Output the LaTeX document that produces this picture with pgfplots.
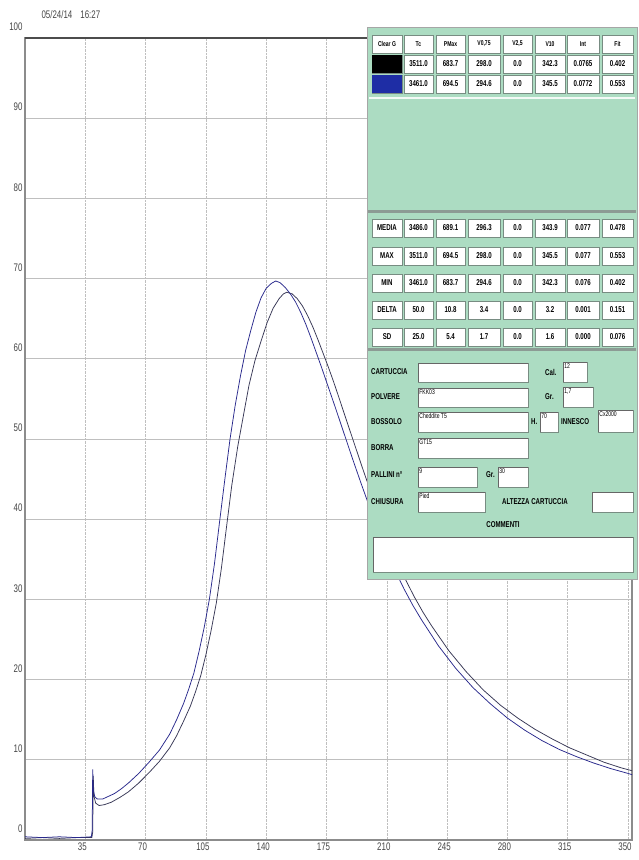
\documentclass[border=0pt]{standalone}
\usepackage{fontspec}
\setmainfont{Liberation Sans}
\newfontfamily\cond[FakeStretch=0.72]{Liberation Sans}
\usepackage{pgfplots}
\usepackage{pgfplotstable}
\pgfplotsset{compat=1.18}

\definecolor{cblue}{RGB}{40,40,140}
\definecolor{cblack}{RGB}{55,55,85}
\definecolor{panelgreen}{RGB}{172,220,194}
\definecolor{cellborder}{RGB}{120,140,130}
\definecolor{sepgray}{RGB}{140,155,148}
\definecolor{swblue}{RGB}{30,45,165}
\definecolor{ticktext}{RGB}{70,70,70}

\pgfplotstableread{
t p
0 4
10 3
20 4
30 3
38.5 4
39.0 12
39.3 88
39.7 62
40.5 54
42 51
45 51
48 54
52 58
56 64
60 71
66 83
72 97
78 112
84 132
88 150
92 170
95 188
98 208
101 235
104 265
107 300
110 345
113 398
116 450
119 500
122 542
125 578
128 610
131 635
134 658
137 676
140 688
143 694
145.5 697
148 695
151 689
154 681
157 671
160 658
163 643
166 626
169 608
172 590
176 565
180 540
185 508
190 476
195 445
200 415
205 386
210 359
215 335
220 313
225 293
230 275
240 242
250 214
260 190
270 170
280 152
290 137
300 124
310 113
320 104
330 96
340 89
350 83
353 81
}\blueseries

\pgfplotstableread{
t p
0 2
10 3
20 2
30 3
38.8 3
39.3 10
39.6 80
40.0 55
41 46
43 43
46 44
50 47
55 53
60 60
66 71
72 84
78 98
84 115
88 130
92 148
96 167
99 185
102 205
105 231
108 261
111 295
114 339
117 391
120 442
123.5 491
127 532
130 567
133.5 598
137 622
140.5 645
144 663
147.5 675
150 681
152 683
155 681
158 675
161 666
164 654
167 640
170 624
173 607
176 590
179 572
182 553
186 527
191 495
196 463
201 432
206 402
211 374
216 348
221 324
226 303
231 284
236 267
246 236
256 210
266 187
276 168
286 152
296 138
306 126
316 115
326 106
336 97
346 90
353 86
}\blackseries

\newcommand\tabfont{\cond\bfseries\fontsize{8.5}{9}\selectfont}
\newcommand\hdrfont{\cond\bfseries\fontsize{7}{8}\selectfont}
\newcommand\lblfont{\cond\bfseries\fontsize{8.5}{9}\selectfont}
\newcommand\valfont{\cond\fontsize{7}{8}\selectfont}

% cell: x1, x2, ycenter, text
\newcommand\cell[5][\tabfont]{%
  \draw[fill=white,draw=cellborder,line width=0.6pt] (#2,#4-9) rectangle (#3,#4+9);
  \node[font=#1,text=black,inner sep=0pt] at ({(#2+#3)/2},#4) {#5};}
\newcommand\tabrow[9]{%
  \cell{372}{402}{#1}{#2}\cell{404}{433}{#1}{#3}\cell{436}{465}{#1}{#4}%
  \cell{468}{500}{#1}{#5}\cell{503}{532}{#1}{#6}\cell{535}{565}{#1}{#7}%
  \cell{567}{599}{#1}{#8}\cell{602}{633}{#1}{#9}}
\newcommand\hdrrow[9]{%
  \cell[\hdrfont]{372}{402}{#1}{#2}\cell[\hdrfont]{404}{433}{#1}{#3}\cell[\hdrfont]{436}{465}{#1}{#4}%
  \cell[\hdrfont]{468}{500}{#1}{#5}\cell[\hdrfont]{503}{532}{#1}{#6}\cell[\hdrfont]{535}{565}{#1}{#7}%
  \cell[\hdrfont]{567}{599}{#1}{#8}\cell[\hdrfont]{602}{633}{#1}{#9}}
% field box: x1,y1,x2,y2,text
\newcommand\field[5]{%
  \draw[fill=white,draw=cellborder,line width=0.6pt] (#1,#2) rectangle (#3,#4);
  \draw[black!60,line width=0.9pt] (#1,#4) -- (#1,#2) -- (#3,#2);
  \node[font=\valfont,anchor=north west,inner sep=1.2pt] at (#1,#2) {#5};}
\newcommand\lbl[3]{\node[font=\lblfont,anchor=west,inner sep=0pt] at (#1,#2) {#3};}

\begin{document}
\begin{tikzpicture}
\useasboundingbox (0,0) rectangle (638pt,860pt);
\fill[white] (0,0) rectangle (638pt,860pt);
\begin{axis}[
  at={(25pt,20pt)}, anchor=south west,
  scale only axis, width=607pt, height=802pt,
  xmin=0, xmax=352.3, ymin=0, ymax=1000,
  xtick={35,70,105,140,175,210,245,280,315,350},
  ytick={0,100,200,300,400,500,600,700,800,900,1000},
  yticklabels={0,10,20,30,40,50,60,70,80,90,100},
  major tick length=0pt,
  grid=major,
  x grid style={densely dotted, draw=black!25, line width=0.6pt},
  y grid style={draw=black!25, line width=0.6pt},
  axis line style={draw=black!45, line width=1.4pt},
  /pgf/number format/assume math mode=true,
  tick label style={font=\cond\fontsize{11}{11}\selectfont, text=ticktext},
  yticklabel style={yshift=11pt, xshift=1pt},
  xticklabel style={xshift=-3pt, yshift=1pt},
  clip=true,
]
\addplot[draw=cblack, line width=0.75pt] table[x=t,y=p] {\blackseries};
\addplot[draw=cblue, line width=0.75pt] table[x=t,y=p] {\blueseries};
\draw[black!70, line width=2pt] (rel axis cs:0,1) -- (rel axis cs:1,1);
\end{axis}

\node[font=\cond\fontsize{11}{11}\selectfont, text=ticktext, anchor=west] at (38pt,845pt) {05/24/14\hspace{8pt}16:27};

\begin{scope}[shift={(0pt,860pt)}, x=1pt, y=-1pt]
  % panel
  \fill[panelgreen] (367,28) rectangle (637,580);
  \draw[black!35, line width=1pt] (367,28) rectangle (637,580);
  % top table
  \hdrrow{44}{Clear G}{Tc}{PMax}{V0,75}{V2,5}{V10}{Int}{Fit}
  \tabrow{64}{}{3511.0}{683.7}{298.0}{0.0}{342.3}{0.0765}{0.402}
  \tabrow{84}{}{3461.0}{694.5}{294.6}{0.0}{345.5}{0.0772}{0.553}
  \fill[black] (372,55) rectangle (402,73);
  \fill[swblue] (372,75) rectangle (402,93);
  \draw[white!85!panelgreen, line width=2pt] (369,98) -- (635,98);
  % stats
  \draw[sepgray, line width=3pt] (368,212) -- (636,212);
  \tabrow{228}{MEDIA}{3486.0}{689.1}{296.3}{0.0}{343.9}{0.077}{0.478}
  \tabrow{256}{MAX}{3511.0}{694.5}{298.0}{0.0}{345.5}{0.077}{0.553}
  \tabrow{283}{MIN}{3461.0}{683.7}{294.6}{0.0}{342.3}{0.076}{0.402}
  \tabrow{310}{DELTA}{50.0}{10.8}{3.4}{0.0}{3.2}{0.001}{0.151}
  \tabrow{337}{SD}{25.0}{5.4}{1.7}{0.0}{1.6}{0.000}{0.076}
  \draw[sepgray, line width=3pt] (368,350) -- (636,350);
  % form
  \lbl{371}{372}{CARTUCCIA}
  \field{418}{363}{528}{382}{}
  \lbl{545}{372}{Cal.}
  \field{563}{362}{587}{382}{12}
  \lbl{371}{397}{POLVERE}
  \field{418}{388}{528}{407}{FKK03}
  \lbl{545}{397}{Gr.}
  \field{563}{387}{593}{407}{1,7}
  \lbl{371}{422}{BOSSOLO}
  \field{418}{412}{528}{432}{Cheddite T5}
  \lbl{531}{422}{H.}
  \field{540}{412}{558}{432}{70}
  \lbl{561}{422}{INNESCO}
  \field{598}{410}{633}{432}{Cx2000}
  \lbl{371}{448}{BORRA}
  \field{418}{438}{528}{458}{GT15}
  \lbl{371}{475}{PALLINI n\textdegree}
  \field{418}{467}{477}{487}{9}
  \lbl{486}{475}{Gr.}
  \field{498}{467}{528}{487}{30}
  \lbl{371}{502}{CHIUSURA}
  \field{418}{492}{485}{512}{Pied}
  \lbl{502}{502}{ALTEZZA CARTUCCIA}
  \field{592}{492}{633}{512}{}
  \node[font=\lblfont,inner sep=0pt] at (503,525) {COMMENTI};
  \field{373}{537}{633}{572}{}
\end{scope}
\end{tikzpicture}
\end{document}
